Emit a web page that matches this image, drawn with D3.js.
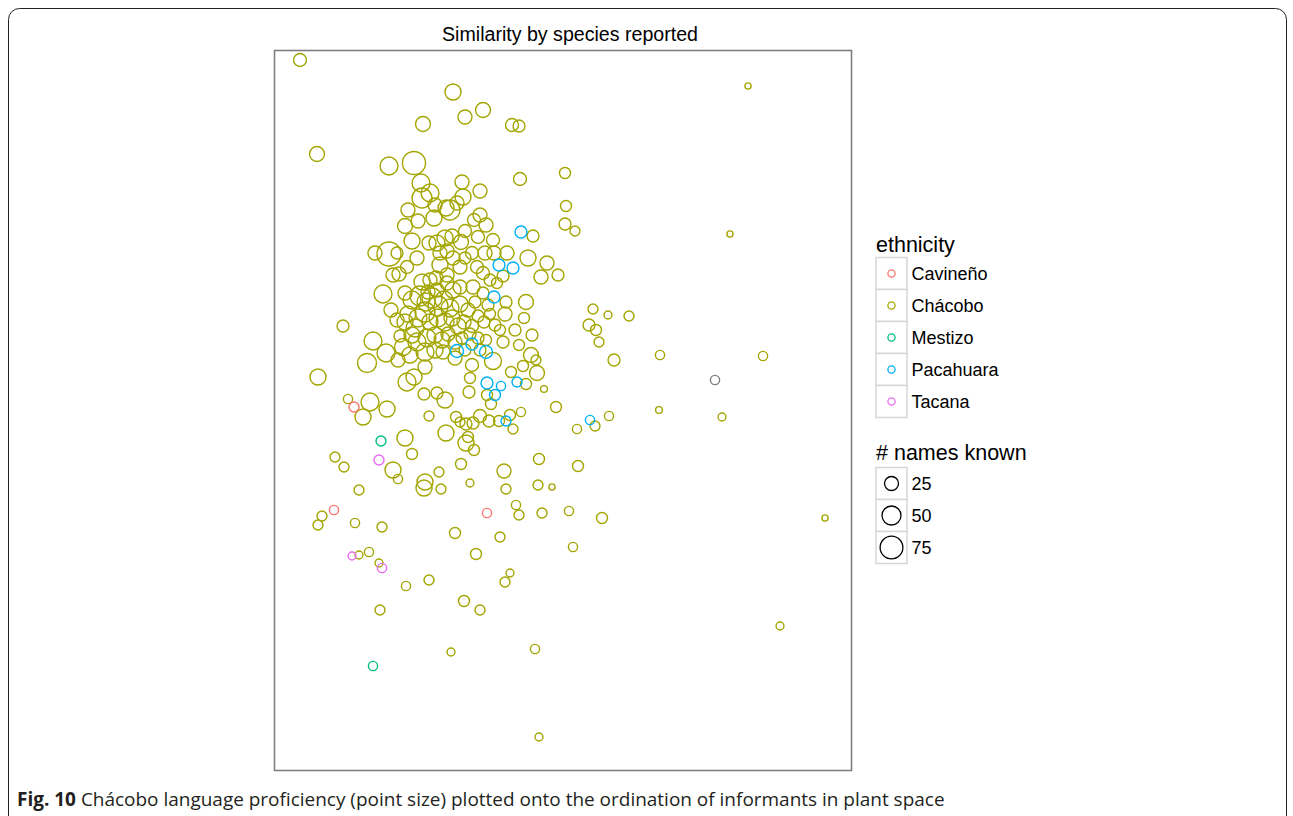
<!DOCTYPE html>
<html><head><meta charset="utf-8">
<script src="https://cdn.jsdelivr.net/npm/d3@7"></script>
<style>body{margin:0;background:#fff}svg{display:block}</style>
</head><body><svg id="c" width="1293" height="816"></svg>
<script>
// ordination scores [axis1, axis2, # names known]
const chacobo = [
[0.26,7.11,21],[4.74,6.85,3],[1.79,6.79,34],[2.09,6.61,29],[1.91,6.54,25],[1.49,6.47,29],[2.38,6.46,21],[2.45,6.45,17],
[0.43,6.17,29],[1.15,6.05,44],[1.40,6.08,77],[2.46,5.92,21],[2.91,5.98,14],[1.47,5.88,44],[1.88,5.89,25],[2.06,5.80,25],
[1.56,5.78,44],[1.48,5.73,56],[1.89,5.74,34],[1.83,5.68,25],[1.76,5.61,56],[1.61,5.66,25],[1.72,5.63,34],[1.34,5.61,25],
[1.44,5.50,25],[1.60,5.53,34],[1.31,5.45,29],[2.06,5.56,25],[2.00,5.51,21],[2.12,5.46,25],[1.91,5.40,21],[2.04,5.34,21],
[1.87,5.29,29],[2.19,5.31,21],[2.92,5.65,14],[2.91,5.47,17],[3.01,5.40,11],[2.59,5.35,17],[4.56,5.37,3],[1.38,5.30,34],
[1.55,5.28,25],[1.63,5.28,34],[1.71,5.33,34],[1.78,5.35,25],[1.66,5.18,25],[1.73,5.20,25],[1.01,5.18,25],[1.15,5.17,84],
[1.23,5.18,17],[1.43,5.13,25],[1.33,5.04,21],[1.19,4.96,25],[1.25,4.97,25],[1.48,4.89,34],[1.56,4.91,25],[1.62,4.93,25],
[1.98,5.18,21],[2.11,5.18,25],[2.20,5.18,25],[2.33,5.18,25],[2.54,5.13,34],[2.73,5.08,25],[2.67,4.94,25],[2.84,4.96,17],
[2.29,4.95,17],[1.91,5.13,17],[1.86,5.04,25],[2.03,5.04,21],[1.73,4.96,25],[2.09,4.98,21],[2.16,4.91,17],[1.99,4.84,25],
[1.86,4.84,25],[1.79,4.81,34],[1.73,4.88,25],[2.09,4.78,17],[2.23,4.88,14],[1.09,4.77,44],[1.31,4.78,25],[1.54,4.79,25],
[1.63,4.81,25],[1.38,4.71,44],[1.46,4.75,56],[1.52,4.69,44],[1.58,4.73,56],[1.64,4.65,56],[1.70,4.71,44],[1.76,4.63,44],
[1.86,4.67,34],[1.94,4.61,25],[2.01,4.69,17],[1.17,4.61,25],[1.34,4.57,34],[1.44,4.53,44],[1.51,4.59,56],[1.56,4.49,34],
[1.64,4.53,44],[1.71,4.49,44],[1.78,4.53,34],[1.84,4.45,34],[1.90,4.49,25],[1.98,4.45,21],[2.04,4.55,17],[2.10,4.49,17],
[2.16,4.57,14],[2.21,4.46,17],[2.32,4.69,17],[2.52,4.69,29],[2.31,4.57,25],[2.50,4.53,14],[2.58,4.36,17],[2.29,4.29,17],
[0.69,4.45,17],[0.99,4.30,44],[1.26,4.35,17],[1.29,4.24,39],[1.12,4.18,44],[0.93,4.08,50],[1.43,4.29,44],[1.51,4.19,44],
[1.38,4.36,34],[1.53,4.33,44],[1.61,4.36,34],[1.68,4.31,34],[1.74,4.37,25],[1.81,4.29,25],[1.88,4.33,17],[1.96,4.37,17],
[2.04,4.33,17],[2.12,4.31,14],[1.61,4.21,34],[1.69,4.19,25],[1.91,4.21,17],[2.19,4.10,39],[2.57,4.16,29],[2.62,4.11,11],
[2.63,3.98,29],[2.49,4.05,14],[2.37,3.99,14],[1.98,4.06,21],[1.96,3.93,14],[2.52,3.87,14],[2.70,3.82,4],[1.95,3.79,17],
[1.51,4.04,25],[0.44,3.94,34],[1.33,3.89,44],[1.40,3.94,34],[1.50,3.77,17],[1.63,3.78,17],[1.71,3.71,34],[0.74,3.72,9],
[0.96,3.69,44],[0.89,3.54,34],[1.13,3.62,34],[1.55,3.55,11],[2.13,3.76,14],[2.17,3.67,14],[2.82,3.64,14],[1.82,3.54,14],
[1.86,3.49,11],[1.92,3.47,17],[1.99,3.48,17],[2.06,3.55,21],[2.15,3.50,17],[2.25,3.50,14],[2.36,3.56,14],[2.47,3.59,9],
[2.39,3.42,11],[1.72,3.38,34],[1.94,3.34,14],[1.92,3.28,34],[2.00,3.21,14],[1.31,3.33,34],[0.61,3.14,11],[0.70,3.04,11],
[1.38,3.17,14],[1.19,3.01,34],[1.24,2.92,9],[0.85,2.81,11],[1.51,2.89,34],[1.50,2.83,34],[1.65,2.99,11],[1.67,2.82,11],
[1.87,3.07,14],[2.30,3.00,25],[1.96,2.88,6],[2.32,2.82,11],[2.64,2.86,11],[2.78,2.84,3],[2.65,3.12,14],[3.04,3.05,14],
[3.19,4.62,11],[3.34,4.56,6],[3.55,4.55,11],[3.15,4.46,17],[3.22,4.41,14],[3.25,4.29,11],[3.40,4.11,17],[3.86,4.16,9],
[4.89,4.15,9],[3.85,3.61,4],[4.48,3.54,6],[3.35,3.55,9],[3.21,3.45,11],[3.03,3.42,9],[2.42,2.66,9],[2.45,2.56,11],
[2.68,2.58,11],[2.95,2.60,9],[3.28,2.53,14],[0.48,2.55,11],[0.44,2.46,11],[0.81,2.48,9],[1.08,2.44,11],[1.81,2.38,14],
[2.26,2.34,11],[2.99,2.24,9],[0.85,2.16,6],[0.95,2.19,9],[1.05,2.08,6],[2.02,2.17,14],[1.32,1.85,9],[1.55,1.91,11],
[2.36,1.98,6],[2.31,1.89,11],[1.90,1.70,14],[2.06,1.61,11],[1.06,1.61,11],[1.77,1.19,6],[2.61,1.22,9],[2.65,0.34,6],
[5.51,2.53,3],[5.06,1.45,6],[1.66,5.06,34],[1.79,5.13,25],[2.14,4.66,17],[1.41,4.43,44],[1.31,4.49,34],[1.23,4.51,25],
[1.36,4.16,34],[1.24,4.11,25],[1.81,4.13,25],[2.06,4.21,17],[2.26,4.41,14],[2.41,4.41,17],[2.45,4.26,14]
];
const pacahuara = [
[2.47,5.39,17],[2.25,5.06,17],[2.39,5.03,17],[2.20,4.74,17],[1.98,4.27,17],[1.83,4.20,21],[2.12,4.19,21],
[2.13,3.88,17],[2.27,3.85,9],[2.43,3.89,11],[2.21,3.76,14],[2.32,3.50,11],[3.16,3.51,9]
];
const cavineno = [[0.80,3.64,11],[0.60,2.61,9],[2.13,2.58,9]];
const mestizo = [[1.07,3.30,11],[0.99,1.05,9]];
const tacana = [[1.05,3.11,11],[0.78,2.15,6],[1.08,2.03,9]];
const unknownEthnicity = [[4.41,3.91,9]];

const ethnicities = ["Cavineño","Chácobo","Mestizo","Pacahuara","Tacana"];
const ethColors = ["#F8766D","#A3A500","#00BF7D","#00B0F6","#E76BF3"];
const sizeBreaks = [25,50,75];
const titleText = "Similarity by species reported";
const captionBold = "Fig. 10";
const captionRest = " Chácobo language proficiency (point size) plotted onto the ordination of informants in plant space";

const svg = d3.select("#c");
const FONT = "'Liberation Sans', Arial, Helvetica, sans-serif";

// outer figure frame
svg.append("rect").attr("x",8.5).attr("y",8.5).attr("width",1278).attr("height",840)
  .attr("rx",11).attr("fill","none").attr("stroke","#231f20").attr("stroke-width",1);

const x = d3.scaleLinear().domain([0,5.78]).range([274,852]);
const y = d3.scaleLinear().domain([0,7.21]).range([771,50]);
const r = d3.scalePow().exponent(0.5).domain([0,100]).range([1,13]);
const color = d3.scaleOrdinal().domain(ethnicities).range(ethColors).unknown("#7F7F7F");

svg.append("text").attr("x",570).attr("y",41).attr("text-anchor","middle")
  .attr("font-family",FONT).attr("font-size",19.6).attr("fill","#000").text(titleText);

const groups = [
  {name:"Chácobo", pts:chacobo},
  {name:"Pacahuara", pts:pacahuara},
  {name:"Cavineño", pts:cavineno},
  {name:"Mestizo", pts:mestizo},
  {name:"Tacana", pts:tacana},
  {name:null, pts:unknownEthnicity}
];
const gPts = svg.append("g");
groups.forEach(g => {
  gPts.selectAll(null).data(g.pts).enter().append("circle")
    .attr("cx", d => x(d[0])).attr("cy", d => y(d[1])).attr("r", d => r(d[2]))
    .attr("fill","none").attr("stroke", color(g.name)).attr("stroke-width",1.4);
});

svg.append("rect").attr("x",274.5).attr("y",50.5).attr("width",577).attr("height",720)
  .attr("fill","none").attr("stroke","#7F7F7F").attr("stroke-width",1.6);

// legends
const lg = svg.append("g");
const keyX = 876, keyW = 31, keyH = 32;
lg.append("text").attr("x",keyX).attr("y",252).attr("font-family",FONT).attr("font-size",21.5).text("ethnicity");
ethnicities.forEach((e,i) => {
  const y0 = 257.5 + i*keyH;
  lg.append("rect").attr("x",keyX).attr("y",y0).attr("width",keyW).attr("height",keyH)
    .attr("fill","#fff").attr("stroke","#d6d6d6").attr("stroke-width",1.5);
  lg.append("circle").attr("cx",keyX+keyW/2).attr("cy",y0+keyH/2).attr("r",3.6)
    .attr("fill","none").attr("stroke",color(e)).attr("stroke-width",1.3);
  lg.append("text").attr("x",911.5).attr("y",y0+keyH/2+6.5).attr("font-family",FONT).attr("font-size",18).text(e);
});
lg.append("text").attr("x",keyX).attr("y",460).attr("font-family",FONT).attr("font-size",21.5).text("# names known");
sizeBreaks.forEach((s,i) => {
  const y0 = 467.5 + i*keyH;
  lg.append("rect").attr("x",keyX).attr("y",y0).attr("width",keyW).attr("height",keyH)
    .attr("fill","#fff").attr("stroke","#d6d6d6").attr("stroke-width",1.5);
  lg.append("circle").attr("cx",keyX+keyW/2).attr("cy",y0+keyH/2).attr("r",r(s))
    .attr("fill","none").attr("stroke","#000").attr("stroke-width",1.3);
  lg.append("text").attr("x",911.5).attr("y",y0+keyH/2+6.5).attr("font-family",FONT).attr("font-size",18).text(s);
});

// caption
const cap = svg.append("text").attr("x",17).attr("y",806)
  .attr("font-family","'Open Sans', 'Noto Sans', sans-serif").attr("font-size",100).attr("fill","#231f20");
cap.append("tspan").attr("font-weight","bold").text(captionBold);
cap.append("tspan").text(captionRest);
const w = cap.node().getComputedTextLength();
cap.attr("font-size", 100*928/w);
</script></body></html>
